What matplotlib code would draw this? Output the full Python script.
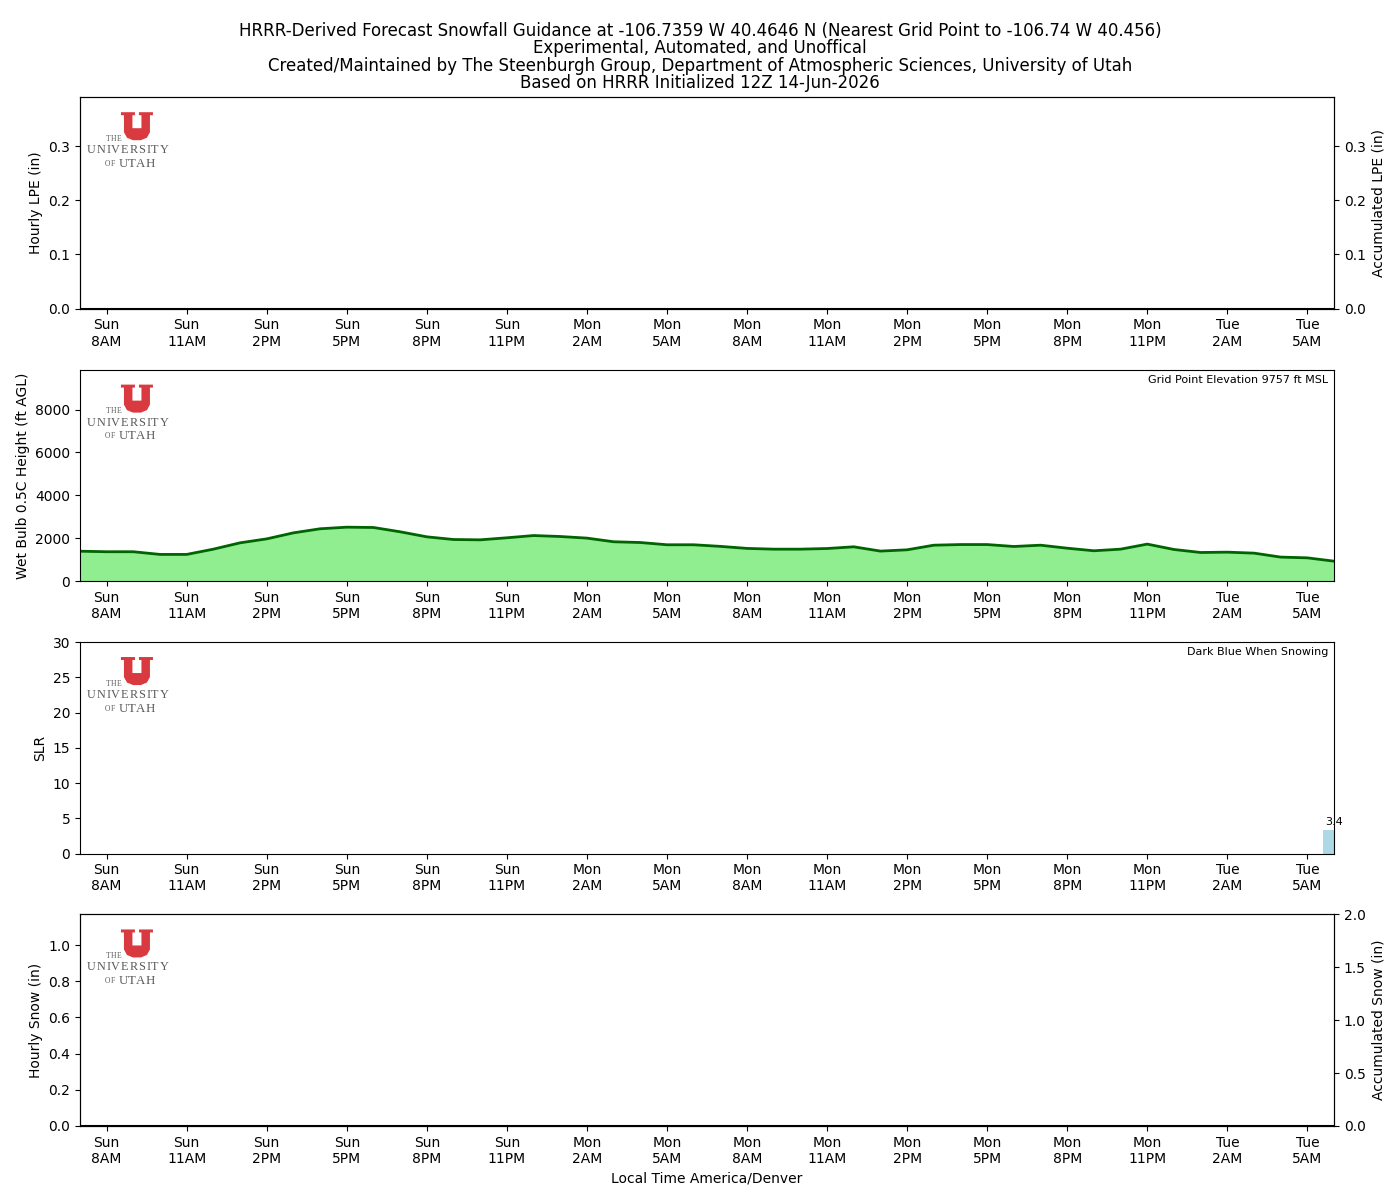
import matplotlib
matplotlib.use('Agg')
import matplotlib.pyplot as plt
from matplotlib.patches import Polygon
import numpy as np

# forecast hours, 0 = Sun 7AM local
hours = list(range(48))

tick_hours = [1, 4, 7, 10, 13, 16, 19, 22, 25, 28, 31, 34, 37, 40, 43, 46]
tick_labels = ['Sun\n8AM', 'Sun\n11AM', 'Sun\n2PM', 'Sun\n5PM', 'Sun\n8PM', 'Sun\n11PM',
               'Mon\n2AM', 'Mon\n5AM', 'Mon\n8AM', 'Mon\n11AM', 'Mon\n2PM', 'Mon\n5PM',
               'Mon\n8PM', 'Mon\n11PM', 'Tue\n2AM', 'Tue\n5AM']

hourly_lpe = [0.0, 0.0, 0.0, 0.0, 0.0, 0.0, 0.0, 0.0, 0.0, 0.0, 0.0, 0.0,
              0.0, 0.0, 0.0, 0.0, 0.0, 0.0, 0.0, 0.0, 0.0, 0.0, 0.0, 0.0,
              0.0, 0.0, 0.0, 0.0, 0.0, 0.0, 0.0, 0.0, 0.0, 0.0, 0.0, 0.0,
              0.0, 0.0, 0.0, 0.0, 0.0, 0.0, 0.0, 0.0, 0.0, 0.0, 0.0, 0.0]
accum_lpe = [0.0, 0.0, 0.0, 0.0, 0.0, 0.0, 0.0, 0.0, 0.0, 0.0, 0.0, 0.0,
             0.0, 0.0, 0.0, 0.0, 0.0, 0.0, 0.0, 0.0, 0.0, 0.0, 0.0, 0.0,
             0.0, 0.0, 0.0, 0.0, 0.0, 0.0, 0.0, 0.0, 0.0, 0.0, 0.0, 0.0,
             0.0, 0.0, 0.0, 0.0, 0.0, 0.0, 0.0, 0.0, 0.0, 0.0, 0.0, 0.0]

wetbulb_hgt = [1395, 1370, 1370, 1245, 1245, 1490, 1785, 1970, 2250, 2440, 2515, 2500,
               2300, 2065, 1940, 1925, 2020, 2125, 2080, 2005, 1835, 1800, 1695, 1695,
               1620, 1525, 1490, 1490, 1520, 1600, 1400, 1460, 1675, 1705, 1705, 1615,
               1675, 1535, 1415, 1490, 1725, 1475, 1335, 1350, 1305, 1120, 1085, 930]

slr = [0.0, 0.0, 0.0, 0.0, 0.0, 0.0, 0.0, 0.0, 0.0, 0.0, 0.0, 0.0,
       0.0, 0.0, 0.0, 0.0, 0.0, 0.0, 0.0, 0.0, 0.0, 0.0, 0.0, 0.0,
       0.0, 0.0, 0.0, 0.0, 0.0, 0.0, 0.0, 0.0, 0.0, 0.0, 0.0, 0.0,
       0.0, 0.0, 0.0, 0.0, 0.0, 0.0, 0.0, 0.0, 0.0, 0.0, 0.0, 3.4]

hourly_snow = [0.0, 0.0, 0.0, 0.0, 0.0, 0.0, 0.0, 0.0, 0.0, 0.0, 0.0, 0.0,
               0.0, 0.0, 0.0, 0.0, 0.0, 0.0, 0.0, 0.0, 0.0, 0.0, 0.0, 0.0,
               0.0, 0.0, 0.0, 0.0, 0.0, 0.0, 0.0, 0.0, 0.0, 0.0, 0.0, 0.0,
               0.0, 0.0, 0.0, 0.0, 0.0, 0.0, 0.0, 0.0, 0.0, 0.0, 0.0, 0.0]
accum_snow = [0.0, 0.0, 0.0, 0.0, 0.0, 0.0, 0.0, 0.0, 0.0, 0.0, 0.0, 0.0,
              0.0, 0.0, 0.0, 0.0, 0.0, 0.0, 0.0, 0.0, 0.0, 0.0, 0.0, 0.0,
              0.0, 0.0, 0.0, 0.0, 0.0, 0.0, 0.0, 0.0, 0.0, 0.0, 0.0, 0.0,
              0.0, 0.0, 0.0, 0.0, 0.0, 0.0, 0.0, 0.0, 0.0, 0.0, 0.0, 0.0]

elevation_ft = 9757

title = ('HRRR-Derived Forecast Snowfall Guidance at -106.7359 W 40.4646 N '
         '(Nearest Grid Point to -106.74 W 40.456)\n'
         'Experimental, Automated, and Unoffical\n'
         'Created/Maintained by The Steenburgh Group, Department of Atmospheric Sciences, University of Utah\n'
         'Based on HRRR Initialized 12Z 14-Jun-2026')

fig, axes = plt.subplots(4, 1, figsize=(14, 12), dpi=100)
fig.subplots_adjust(left=0.0571, right=0.9529, top=0.919, bottom=0.0617, hspace=0.288)
fig.suptitle(title, fontsize=12, y=0.982, linespacing=0.97)

LOGO_GRAY = '#5a5a5a'
# approx advance widths (em) of the serif capitals used in the wordmark
CAP_W = {'U': .722, 'N': .722, 'I': .333, 'V': .722, 'E': .611, 'R': .667, 'S': .556,
         'T': .611, 'Y': .722, 'H': .722, 'O': .722, 'F': .556, 'A': .722}


def tracked_text(ax, word, x_start, y, size, track):
    # wordmark letters are spaced out wider than the font does by itself
    em = size * 100 / 72.0
    x = x_start
    for ch in word:
        ax.text(x, y, ch, fontsize=size, family='Liberation Serif',
                color=LOGO_GRAY, ha='left', va='center')
        x += CAP_W[ch] * em + track


def add_logo(ax):
    # block U plus wordmark, drawn in a small inset in pixel units
    pos = ax.get_position()
    y1 = pos.y1 - 12 / 1200
    lax = fig.add_axes([pos.x0, y1 - 60 / 1200, 100 / 1400, 60 / 1200])
    lax.set_xlim(0, 100)
    lax.set_ylim(0, 60)
    lax.axis('off')
    ux, uy = 41, 29
    u = [(0, 28), (14, 28), (14, 25), (11.5, 25), (11.5, 12), (20.5, 12), (20.5, 25),
         (18, 25), (18, 28), (32, 28), (32, 25), (29, 25), (29, 8), (26, 2.5), (20, 0),
         (12, 0), (6, 2.5), (3, 8), (3, 25), (0, 25)]
    lax.add_patch(Polygon([(ux + a, uy + b) for a, b in u], closed=True,
                          facecolor='#d93a3f', edgecolor='none'))
    tracked_text(lax, 'THE', 26, 30.5, 5.5, 0.2)
    tracked_text(lax, 'UNIVERSITY', 7, 19, 8.8, 0.9)
    tracked_text(lax, 'OF', 25, 5.5, 5.5, 0.2)
    tracked_text(lax, 'UTAH', 38.5, 5.5, 9.3, 0.2)


def set_time_axis(ax):
    ax.set_xlim(0, 47)
    ax.set_xticks(tick_hours)
    ax.set_xticklabels(tick_labels, fontsize=10)


# panel 1: liquid precip
ax1 = axes[0]
ax1.bar(hours, hourly_lpe, width=0.8, color='green')
ax1.set_ylim(0, 0.39)
ax1.set_yticks([0.0, 0.1, 0.2, 0.3])
ax1.set_ylabel('Hourly LPE (in)')
set_time_axis(ax1)
ax1r = ax1.twinx()
ax1r.plot(hours, accum_lpe, color='black', linewidth=1.5)
ax1r.set_ylim(0, 0.39)
ax1r.set_yticks([0.0, 0.1, 0.2, 0.3])
ax1r.set_ylabel('Accumulated LPE (in)')
add_logo(ax1)

# panel 2: wet bulb height
ax2 = axes[1]
ax2.fill_between(hours, wetbulb_hgt, 0, color='lightgreen')
ax2.plot(hours, wetbulb_hgt, color='darkgreen', linewidth=2)
ax2.set_ylim(0, 9860)
ax2.set_yticks([0, 2000, 4000, 6000, 8000])
ax2.set_ylabel('Wet Bulb 0.5C Height (ft AGL)')
ax2.text(0.9955, 0.975, 'Grid Point Elevation %d ft MSL' % elevation_ft, transform=ax2.transAxes,
         ha='right', va='top', fontsize=8)
set_time_axis(ax2)
add_logo(ax2)

# panel 3: snow to liquid ratio
ax3 = axes[2]
bars = ax3.bar(hours, slr, width=0.8, color='lightblue')
for h, v in zip(hours, slr):
    if v > 0:
        ax3.text(h, v + 0.3, '%.1f' % v, ha='center', va='bottom', fontsize=8)
ax3.set_ylim(0, 30)
ax3.set_yticks([0, 5, 10, 15, 20, 25, 30])
ax3.set_ylabel('SLR')
ax3.text(0.9955, 0.975, 'Dark Blue When Snowing', transform=ax3.transAxes,
         ha='right', va='top', fontsize=8)
set_time_axis(ax3)
add_logo(ax3)

# panel 4: snowfall
ax4 = axes[3]
ax4.bar(hours, hourly_snow, width=0.8, color='darkblue')
ax4.set_ylim(0, 1.17)
ax4.set_yticks([0.0, 0.2, 0.4, 0.6, 0.8, 1.0])
ax4.set_ylabel('Hourly Snow (in)')
set_time_axis(ax4)
ax4.set_xlabel('Local Time America/Denver')
ax4r = ax4.twinx()
ax4r.plot(hours, accum_snow, color='black', linewidth=1.5)
ax4r.set_ylim(0, 2.0)
ax4r.set_yticks([0.0, 0.5, 1.0, 1.5, 2.0])
ax4r.set_ylabel('Accumulated Snow (in)')
add_logo(ax4)

fig.savefig('out.png', dpi=100)
